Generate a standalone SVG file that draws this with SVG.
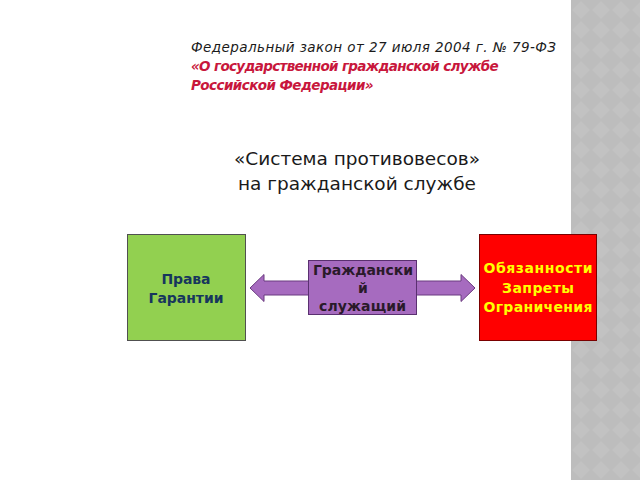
<svg xmlns="http://www.w3.org/2000/svg" width="640" height="480" viewBox="0 0 640 480">
<defs>
<pattern id="dia" x="571" y="0" width="20" height="20" patternUnits="userSpaceOnUse">
<rect width="20" height="20" fill="#bdbdbd"/>
<path d="M10 1 L19 10 L10 19 L1 10 Z" fill="#c2c2c2"/>
</pattern>
<style>
.t{font-family:"DejaVu Sans","Liberation Sans",sans-serif}
.law{font-size:13.5px;font-style:italic}
.red{fill:#c8173c;font-weight:bold;letter-spacing:-0.6px}
.sub{font-size:18.5px;fill:#1a1a1a}
.bx{font-size:14px;font-weight:bold;text-anchor:middle}
</style>
</defs>
<rect width="640" height="480" fill="#ffffff"/>
<rect x="571" y="0" width="69" height="480" fill="url(#dia)"/>
<g id="title" class="t">
<text class="law" x="191" y="52" fill="#1a1a1a" textLength="365">Федеральный закон от 27 июля 2004 г. № 79-ФЗ</text>
<text class="law red" x="191" y="71" textLength="307">«О государственной гражданской службе</text>
<text class="law red" x="191" y="90" textLength="182">Российской Федерации»</text>
</g>
<g id="subtitle" class="t">
<text class="sub" x="357" y="165" text-anchor="middle">«Система противовесов»</text>
<text class="sub" x="357" y="190" text-anchor="middle">на гражданской службе</text>
</g>
<g id="connectors">
<path d="M250 288 L264 274.5 L264 281 L461 281 L461 274.5 L475 288 L461 301.5 L461 295 L264 295 L264 301.5 Z" fill="#a66bbf" stroke="#6b3a80" stroke-width="1"/>
</g>
<g id="rights">
<rect x="127.5" y="234.5" width="118" height="106" fill="#92d050" stroke="#505050" stroke-width="1"/>
<text class="t bx" x="186" y="284" fill="#17365d" textLength="49">Права</text>
<text class="t bx" x="186" y="303" fill="#17365d" textLength="75">Гарантии</text>
</g>
<g id="servant">
<rect x="308.5" y="260.5" width="108" height="54" fill="#a66bbf" stroke="#5a3070" stroke-width="1"/>
<text class="t bx" x="363" y="275" fill="#2a1a2a" textLength="100">Граждански</text>
<text class="t bx" x="363" y="293" fill="#2a1a2a">й</text>
<text class="t bx" x="362.5" y="311" fill="#2a1a2a" textLength="87">служащий</text>
</g>
<g id="duties">
<rect x="479.5" y="234.5" width="117" height="106" fill="#ff0000" stroke="#7a0000" stroke-width="1"/>
<text class="t bx" x="538" y="273" fill="#ffff00" textLength="109">Обязанности</text>
<text class="t bx" x="538" y="293" fill="#ffff00" textLength="72">Запреты</text>
<text class="t bx" x="538" y="312" fill="#ffff00" textLength="109">Ограничения</text>
</g>
</svg>
